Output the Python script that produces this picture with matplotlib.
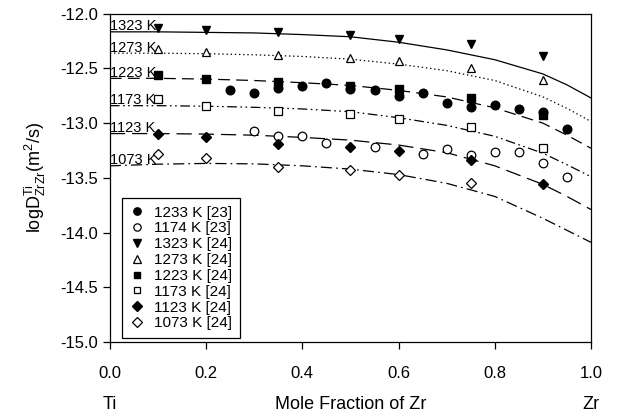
import matplotlib
matplotlib.use("Agg")
import matplotlib.pyplot as plt

plt.rcParams['font.family'] = ['Liberation Sans', 'DejaVu Sans']
plt.rcParams['mathtext.fontset'] = 'custom'
plt.rcParams['mathtext.rm'] = 'Liberation Sans'
plt.rcParams['mathtext.it'] = 'Liberation Sans'
plt.rcParams['lines.scale_dashes'] = False

# ---- data ----
x_line = [0.0, 0.1, 0.2, 0.3, 0.4, 0.5, 0.6, 0.7, 0.8, 0.9, 0.95, 1.0]
line_1323 = [-12.165, -12.165, -12.17, -12.175, -12.19, -12.21, -12.26, -12.33, -12.42, -12.55, -12.65, -12.77]
line_1273 = [-12.36, -12.36, -12.365, -12.375, -12.39, -12.415, -12.46, -12.52, -12.61, -12.76, -12.865, -12.985]
line_1223 = [-12.59, -12.59, -12.597, -12.61, -12.63, -12.655, -12.70, -12.76, -12.86, -13.0, -13.11, -13.23]
line_1173 = [-12.84, -12.84, -12.845, -12.855, -12.87, -12.895, -12.95, -13.02, -13.12, -13.275, -13.38, -13.49]
line_1123 = [-13.095, -13.095, -13.10, -13.11, -13.13, -13.155, -13.20, -13.27, -13.39, -13.56, -13.67, -13.79]
line_1073 = [-13.39, -13.375, -13.368, -13.372, -13.39, -13.42, -13.47, -13.55, -13.67, -13.87, -13.98, -14.09]
line_labels = ["1323 K", "1273 K", "1223 K", "1173 K", "1123 K", "1073 K"]

x_1233 = [0.25, 0.3, 0.35, 0.4, 0.45, 0.5, 0.55, 0.6, 0.65, 0.7, 0.75, 0.8, 0.85, 0.9, 0.95]
y_1233 = [-12.695, -12.725, -12.68, -12.66, -12.635, -12.69, -12.695, -12.75, -12.72, -12.817,
          -12.853, -12.832, -12.872, -12.90, -13.055]
x_1174 = [0.3, 0.35, 0.4, 0.45, 0.55, 0.65, 0.7, 0.75, 0.8, 0.85, 0.9, 0.95]
y_1174 = [-13.07, -13.116, -13.116, -13.18, -13.22, -13.283, -13.235, -13.29, -13.268, -13.26, -13.366, -13.49]

x_24 = [0.1, 0.2, 0.35, 0.5, 0.6, 0.75, 0.9]
y_1323 = [-12.131, -12.152, -12.162, -12.192, -12.226, -12.274, -12.384]
y_1273 = [-12.325, -12.345, -12.38, -12.405, -12.436, -12.497, -12.604]
y_1223 = [-12.564, -12.598, -12.625, -12.66, -12.69, -12.77, -12.924]
y_1173 = [-12.78, -12.84, -12.887, -12.918, -12.96, -13.036, -13.23]
y_1123 = [-13.098, -13.128, -13.19, -13.22, -13.253, -13.335, -13.556]
x_1073 = [0.1, 0.2, 0.35, 0.5, 0.6, 0.75]
y_1073 = [-13.28, -13.32, -13.40, -13.427, -13.47, -13.548]

x_ticks = [0.0, 0.2, 0.4, 0.6, 0.8, 1.0]
y_ticks = [-15.0, -14.5, -14.0, -13.5, -13.0, -12.5, -12.0]

# ---- figure ----
fig = plt.figure(figsize=(6.17, 4.18), dpi=100)
ax = fig.add_axes([0.178, 0.182, 0.780, 0.785])

line_styles = ['-', (0, (1.0, 2.0)), (0, (8.5, 4.5)), (0, (7, 2.5, 1.2, 2.5, 1.2, 2.5)),
               (0, (11, 5)), (0, (8, 3, 1.2, 3))]
lines = [line_1323, line_1273, line_1223, line_1173, line_1123, line_1073]
for ys, ls, lab in zip(lines, line_styles, line_labels):
    ax.plot(x_line, ys, color='black', lw=0.9, linestyle=ls, zorder=2)
    ax.text(0.001, ys[0] + 0.014, lab, fontsize=10.5, ha='left', va='baseline', zorder=3)

ms = 6.2
ax.plot(x_1233, y_1233, 'o', color='black', ms=ms, ls='none', label='1233 K [23]', zorder=4)
ax.plot(x_1174, y_1174, 'o', mfc='white', mec='black', mew=0.9, ms=ms, ls='none', label='1174 K [23]', zorder=4)
ax.plot(x_24, y_1323, 'v', color='black', ms=ms, ls='none', label='1323 K [24]', zorder=4)
ax.plot(x_24, y_1273, '^', mfc='white', mec='black', mew=0.9, ms=ms, ls='none', label='1273 K [24]', zorder=4)
ax.plot(x_24, y_1223, 's', color='black', ms=ms - 0.6, ls='none', label='1223 K [24]', zorder=4)
ax.plot(x_24, y_1173, 's', mfc='white', mec='black', mew=0.9, ms=ms - 0.6, ls='none', label='1173 K [24]', zorder=4)
ax.plot(x_24, y_1123, 'D', color='black', ms=ms - 0.6, ls='none', label='1123 K [24]', zorder=4)
ax.plot(x_1073, y_1073, 'D', mfc='white', mec='black', mew=0.9, ms=ms - 0.6, ls='none', label='1073 K [24]', zorder=4)

ax.set_xlim(0, 1.0)
ax.set_ylim(-15.0, -12.0)
ax.set_xticks(x_ticks)
ax.set_xticklabels([f"{t:.1f}" for t in x_ticks])
ax.set_yticks(y_ticks)
ax.set_yticklabels([f"{t:.1f}" for t in y_ticks])
ax.tick_params(direction='out', length=5, width=0.9, labelsize=12, color='black', top=False, right=False)
ax.tick_params(axis='x', pad=12)
for sp in ax.spines.values():
    sp.set_linewidth(0.9)

ax.set_ylabel(r'logD$^{\mathrm{Ti}}_{\mathrm{ZrZr}}$(m$^{2}$/s)', fontsize=13, labelpad=9)
ax.set_xlabel('Mole Fraction of Zr', fontsize=13, labelpad=11)
ax.text(0.0, -0.192, 'Ti', transform=ax.transAxes, ha='center', va='center', fontsize=13)
ax.text(1.0, -0.192, 'Zr', transform=ax.transAxes, ha='center', va='center', fontsize=13)

leg = ax.legend(loc='lower left', bbox_to_anchor=(0.025, 0.012), borderaxespad=0, fontsize=11,
                frameon=True, fancybox=False, edgecolor='black', framealpha=1, handlelength=1.0,
                handletextpad=0.6, labelspacing=0.12, borderpad=0.5, markerscale=0.85)
leg.get_frame().set_linewidth(0.9)

fig.savefig('out.png', dpi=100)
